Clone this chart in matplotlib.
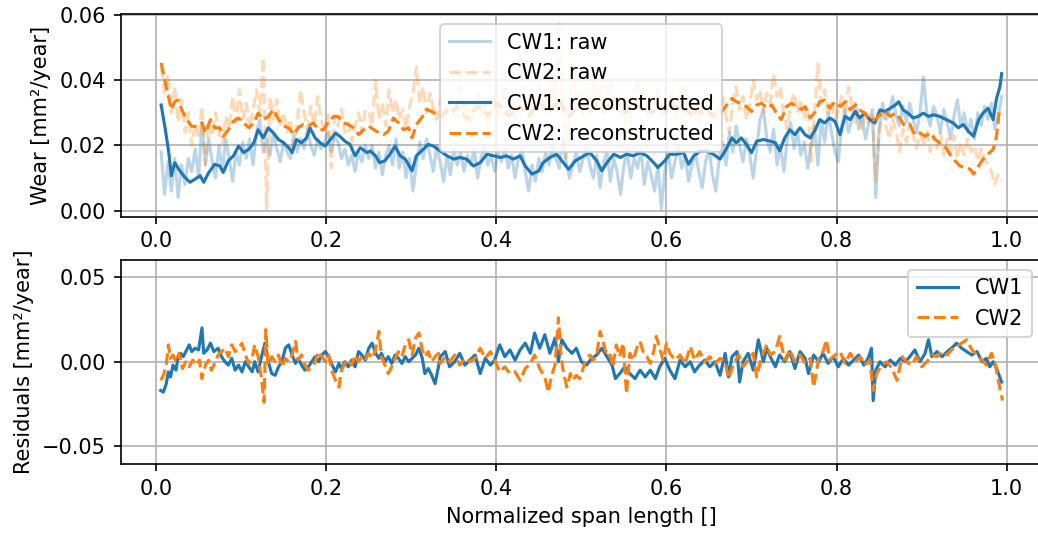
import numpy as np
import matplotlib
matplotlib.use("Agg")
import matplotlib.pyplot as plt

# values, wear in 1e-3 mm^2/year

# raw wear, sampled on an even grid from 0.006 to 0.994
cw1_raw = [18, 5, 15, 6, 16, 4, 14, 8, 16, 12,
           19, 10, 27, 14, 22, 15, 10, 20, 12, 22,
           16, 9, 18, 14, 21, 16, 22, 14, 24, 28,
           18, 22, 17, 24, 19, 15, 21, 18, 16, 23,
           18, 22, 19, 25, 20, 17, 22, 19, 21, 24,
           18, 23, 21, 16, 19, 14, 17, 12, 18, 15,
           20,
           16, 20, 13, 18, 11, 17, 20, 14, 22, 13,
           18, 10, 16, 6, 14, 21, 16, 22, 17, 12,
           20, 15, 9, 17, 11, 19, 14, 18, 12, 17,
           14, 19, 10, 16, 20, 14, 17, 12, 18, 15,
           19, 13, 17, 10, 16, 19, 12, 6, 14, 9,
           16, 12, 18, 14, 20, 16, 13, 22, 15, 10,
           14, 18, 12, 16, 20,
           14, 10, 17, 7, 15, 18, 9, 16, 12, 5,
           14, 18, 10, 16, 13, 19, 8, 15, 11, 6,
           14, 0.5, 12, 18, 10, 15, 20, 13, 17, 9,
           14, 18, 12, 7, 15, 19, 11, 6, 16, 21,
           14, 24, 18, 26, 20, 15, 22, 17, 10, 19,
           28, 31, 22, 18, 25, 14, 20, 12, 22, 27,
           19, 24, 17, 21, 13,
           20, 26, 14, 28, 21, 30, 24, 18, 15, 26,
           31, 24, 28, 33, 25, 29, 22, 27, 31, 4,
           25, 33, 28, 30, 35, 29, 26, 32, 27, 33,
           28, 24, 30, 41, 30, 26, 32, 29, 24, 31,
           27, 22, 29, 34, 26, 30, 24, 28, 22, 30,
           26, 32, 28, 33, 25, 29, 35]

cw2_raw = [44, 36, 42, 30, 38, 27, 34, 24, 30, 20,
           27, 22, 32, 14, 27, 23, 30, 24, 20, 29,
           25, 35, 27, 37, 28, 33, 25, 31, 37, 30,
           47, 0.5, 35, 28, 34, 26, 30, 24, 28, 20,
           27, 37, 30, 25, 32, 26, 35, 28, 24, 30,
           13, 29, 26, 31, 24, 27, 21, 26, 30, 24,
           31,
           30, 26, 40, 28, 33, 26, 37, 30, 34, 28,
           31, 25, 32, 36, 44, 33, 38, 30, 36, 31,
           28, 34, 27, 31, 35, 29, 33, 38, 30, 34,
           27, 32, 36, 29, 33, 26, 31, 35, 28, 32,
           37, 30, 34, 28, 33, 38, 31, 35, 29, 33,
           39, 31, 36, 30, 42, 34, 58, 30, 16, 33,
           45, 32, 36, 29, 37,
           31, 42, 33, 38, 30, 35, 40, 31, 36, 29,
           34, 16, 30, 35, 41, 32, 36, 28, 33, 33,
           37, 29, 34, 30, 36, 28, 33, 38, 31, 35,
           29, 33, 27, 32, 36, 30, 34, 28, 32, 35,
           29, 24, 33, 38, 31, 35, 28, 33, 40, 34,
           37, 30, 36, 33, 42, 35, 38, 29, 25, 33,
           36, 30, 34, 28, 32,
           15, 30, 45, 33, 37, 29, 34, 28, 31, 35,
           29, 38, 32, 27, 31, 25, 30, 27, 30, 9,
           24, 30, 26, 22, 28, 24, 18, 25, 21, 27,
           23, 19, 24, 20, 25, 18, 23, 19, 24, 17,
           22, 18, 23, 16, 21, 17, 22, 18, 20, 15,
           19, 16, 14, 12, 8, 11, 9]

# reconstructed wear
cw1_rec_x = [0.006, 0.011, 0.015, 0.018, 0.022, 0.028, 0.034, 0.040, 0.046, 0.052,
             0.056, 0.062, 0.069, 0.075, 0.079, 0.085, 0.091, 0.097, 0.103, 0.109,
             0.115, 0.120, 0.126, 0.132, 0.138, 0.144, 0.150, 0.156, 0.160, 0.165,
             0.171, 0.177, 0.181, 0.187, 0.193, 0.199, 0.205, 0.211, 0.216, 0.222,
             0.228, 0.234, 0.240, 0.248,
             0.252, 0.258, 0.263, 0.269, 0.275, 0.281, 0.287, 0.293, 0.301, 0.306,
             0.314, 0.320, 0.326, 0.334, 0.342, 0.350, 0.357, 0.365, 0.373, 0.381,
             0.389, 0.397, 0.405, 0.412, 0.420, 0.428, 0.434, 0.442, 0.450, 0.455,
             0.463, 0.471, 0.477, 0.485, 0.493, 0.503, 0.510,
             0.518, 0.524, 0.530, 0.538, 0.546, 0.553, 0.561, 0.569, 0.577, 0.585,
             0.590, 0.598, 0.604, 0.612, 0.620, 0.626, 0.632, 0.640, 0.647, 0.655,
             0.663, 0.669, 0.677, 0.682, 0.688, 0.694, 0.700, 0.706, 0.714, 0.722,
             0.728, 0.733, 0.739, 0.745, 0.751, 0.757, 0.763, 0.769,
             0.775, 0.780, 0.786, 0.792, 0.798, 0.804, 0.810, 0.816, 0.822, 0.827,
             0.833, 0.839, 0.845, 0.851, 0.857, 0.863, 0.869, 0.873, 0.878, 0.884,
             0.890, 0.896, 0.902, 0.908, 0.914, 0.921, 0.929, 0.937, 0.943, 0.949,
             0.955, 0.961, 0.967, 0.972, 0.978, 0.984, 0.988, 0.992, 0.994]
cw1_rec = [32.4, 24.8, 17.8, 10.7, 14.7, 12.2, 10.2, 8.7, 9.7, 10.7,
           8.7, 11.7, 14.2, 13.7, 11.7, 15.3, 16.8, 19.8, 17.8, 18.8,
           20.8, 24.8, 22.3, 25.4, 23.8, 21.8, 20.8, 19.3, 17.8, 21.8,
           20.8, 22.3, 25.4, 22.3, 20.8, 19.8, 21.8, 23.8, 22.8, 21.3,
           20.3, 16.8, 19.3, 17.8,
           18.3, 16.8, 14.7, 15.3, 17.3, 19.8, 16.8, 15.8, 12.2, 16.8,
           18.8, 20.3, 19.8, 18.3, 16.8, 15.8, 16.3, 15.8, 13.7, 14.7,
           17.3, 16.8, 16.3, 16.8, 15.8, 16.8, 13.7, 11.2, 12.2, 14.7,
           16.3, 17.3, 15.3, 12.7, 15.3, 16.8, 17.8,
           15.3, 12.2, 14.7, 17.3, 16.3, 17.3, 16.8, 17.8, 16.8, 14.7,
           13.2, 15.3, 17.3, 17.3, 17.8, 14.2, 16.8, 18.3, 18.3, 17.3,
           15.8, 18.3, 22.3, 20.8, 22.3, 20.3, 17.8, 21.3, 21.8, 21.3,
           20.8, 18.3, 22.3, 24.8, 23.3, 25.4, 23.3, 22.3,
           24.8, 27.9, 26.9, 28.4, 27.4, 23.3, 28.9, 27.9, 30.4, 28.4,
           29.9, 27.9, 26.9, 30.9, 30.4, 31.4, 32.4, 33.4, 30.9, 29.9,
           28.4, 28.9, 29.9, 28.9, 29.4, 28.9, 27.9, 26.9, 25.4, 26.4,
           24.3, 22.8, 27.9, 29.9, 31.4, 27.9, 34.4, 38.0, 42.0]

cw2_rec_x = [0.006, 0.0106, 0.0145, 0.018, 0.022, 0.026, 0.030, 0.036, 0.042, 0.048,
             0.054, 0.058, 0.064, 0.069, 0.075, 0.079, 0.085, 0.091, 0.097, 0.103,
             0.109, 0.115, 0.120, 0.126, 0.132, 0.138, 0.144, 0.150, 0.156, 0.162,
             0.167, 0.173, 0.179, 0.185, 0.191, 0.197, 0.203, 0.209, 0.214, 0.220,
             0.226, 0.232, 0.238, 0.244, 0.250,
             0.259, 0.267, 0.273, 0.279, 0.285, 0.291, 0.297, 0.301, 0.306, 0.312,
             0.318, 0.324, 0.330,
             0.336, 0.342, 0.348, 0.354, 0.360, 0.366, 0.372, 0.378, 0.384, 0.390,
             0.396, 0.402, 0.408, 0.414, 0.420, 0.426, 0.432, 0.438, 0.444, 0.450,
             0.456, 0.462, 0.468, 0.474, 0.480, 0.486, 0.492, 0.498, 0.504, 0.510,
             0.516, 0.522, 0.528, 0.534, 0.540, 0.546, 0.552, 0.558, 0.564, 0.570,
             0.576, 0.582, 0.588, 0.594, 0.600, 0.606, 0.612, 0.618, 0.624, 0.630,
             0.636, 0.642, 0.648, 0.654, 0.660,
             0.665, 0.671, 0.677, 0.682, 0.688, 0.694, 0.700, 0.706, 0.712, 0.718,
             0.724, 0.730, 0.735, 0.741, 0.747, 0.753, 0.759,
             0.763, 0.769, 0.775, 0.780, 0.786, 0.792, 0.798, 0.804, 0.810, 0.816,
             0.822, 0.827, 0.833, 0.839, 0.845, 0.851, 0.857, 0.863, 0.869, 0.874,
             0.880, 0.886, 0.892, 0.898, 0.904, 0.910, 0.916, 0.921, 0.927, 0.933,
             0.939, 0.945, 0.951, 0.957, 0.961, 0.967, 0.972, 0.978, 0.984, 0.988,
             0.991, 0.993]
cw2_rec = [45.3, 39.5, 35.0, 31.0, 33.4, 33.9, 31.0, 27.9, 25.9, 25.7,
           26.9, 23.8, 27.9, 25.4, 25.4, 22.8, 24.8, 27.4, 28.4, 26.9,
           25.4, 26.9, 29.9, 27.9, 28.9, 31.0, 27.9, 25.9, 25.4, 23.3,
           25.4, 26.4, 25.9, 26.9, 24.8, 24.8, 27.4, 28.9, 28.9, 26.9,
           26.4, 25.4, 23.3, 24.8, 25.9,
           24.3, 23.3, 24.3, 28.4, 26.9, 24.8, 25.4, 22.3, 26.4, 28.4,
           31.0, 30.4, 29.4,
           29, 31, 30, 32, 30, 28, 30, 32, 31, 29,
           31, 33, 31, 29, 30, 32, 31, 29, 31, 33,
           32, 30, 32, 34, 31, 29, 31, 33, 32, 30,
           32, 33, 31, 33, 34, 32, 30, 32, 33, 31,
           32, 30, 31, 32, 30, 31, 32, 30, 31, 29,
           31, 30, 31, 29, 30,
           30.4, 32.4, 34.4, 33.4, 32.9, 31.9, 30.4, 32.4, 32.9, 31.4,
           32.4, 29.4, 27.9, 31.9, 32.9, 31.9, 31.0,
           31.9, 28.4, 30.4, 33.4, 33.9, 31.4, 33.4, 31.9, 33.4, 30.9,
           32.4, 30.9, 29.9, 27.9, 27.9, 29.4, 30.4, 28.9, 29.9, 28.4,
           25.9, 26.4, 23.3, 23.8, 22.8, 23.8, 21.8, 20.8, 19.8, 17.3,
           15.3, 13.7, 13.2, 12.7, 11.2, 13.7, 15.8, 17.3, 18.8, 22.8,
           29.9, 31.4]

# residuals
cw1_res_x = [0.0055, 0.0086, 0.012, 0.0145, 0.017, 0.020, 0.0235, 0.026, 0.029, 0.032,
             0.036, 0.039, 0.042, 0.046, 0.050, 0.054, 0.056, 0.060, 0.064, 0.068,
             0.073, 0.077, 0.081, 0.085, 0.089, 0.093, 0.097, 0.101, 0.105, 0.109,
             0.113, 0.116, 0.120, 0.124, 0.128, 0.132, 0.136, 0.140, 0.144, 0.148,
             0.152, 0.156, 0.160, 0.164, 0.167, 0.171, 0.175, 0.179, 0.183, 0.187,
             0.191, 0.195, 0.199, 0.203, 0.207, 0.211, 0.215, 0.218, 0.222, 0.226,
             0.230, 0.234, 0.238, 0.242, 0.246, 0.250, 0.254, 0.258, 0.262, 0.265,
             0.269, 0.273, 0.277, 0.281, 0.285, 0.289, 0.293, 0.297, 0.301, 0.305,
             0.309, 0.313, 0.316, 0.320, 0.324, 0.328, 0.332,
             0.334, 0.340, 0.345, 0.351, 0.357, 0.363, 0.369, 0.375, 0.381, 0.387,
             0.393, 0.398, 0.404, 0.410, 0.416, 0.422, 0.428, 0.434, 0.440, 0.445,
             0.451, 0.457, 0.463, 0.469, 0.473, 0.477, 0.483, 0.489, 0.494, 0.500,
             0.506, 0.512, 0.518, 0.524, 0.530, 0.536, 0.540, 0.545, 0.551, 0.557,
             0.563, 0.569, 0.575, 0.581, 0.587, 0.592, 0.598, 0.604, 0.610, 0.616,
             0.622, 0.628, 0.633, 0.639, 0.645, 0.651, 0.657, 0.663, 0.669,
             0.673, 0.677, 0.683, 0.686, 0.690, 0.696, 0.702, 0.708, 0.714, 0.718,
             0.722, 0.728, 0.733, 0.739, 0.745, 0.751, 0.757, 0.763, 0.767, 0.773,
             0.779, 0.784, 0.790, 0.796, 0.802, 0.808, 0.814, 0.820, 0.826, 0.832,
             0.837, 0.841, 0.843, 0.846, 0.851, 0.857, 0.863, 0.869, 0.875, 0.881,
             0.886, 0.892, 0.898, 0.904, 0.908, 0.912, 0.918, 0.924, 0.930, 0.935,
             0.941, 0.947, 0.953, 0.959, 0.965, 0.971, 0.976, 0.980, 0.984, 0.988,
             0.994]
cw1_res = [-17, -18, -13, -6, -9, -2, -5, 3, 5, 3,
           7, 10, 6, 8, 7, 20, 5, 7, 11, 6,
           8, 3, 0, -2, 2, -5, -2, -6, 0, -3,
           -6, 0, -6, 3, 11, 0, -7, -8, -3, 0,
           8, 10, 4, -1, 2, -2, -5, -3, 0, 3,
           0, 4, 6, 3, -2, -6, -1, -4, 0, -3,
           1, -3, 6, 4, 1, 8, 11, 5, 2, 5,
           0, 3, -1, 4, 2, -1, 3, 0, 2, 4,
           8, 2, -7, -4, -8, -13, -3,
           3, 6, -3, 0, 5, -2, 1, 4, -7, 2,
           -2, 1, 10, 3, 7, 1, 7, 11, 5, 17,
           8, 16, 5, 14, 0, 13, 8, 5, 8, 0,
           -2, 2, 4, 8, 3, -2, -10, -7, -3, -7,
           -10, -5, -9, -5, -10, -3, 2, -5, -10, 1,
           -3, 0, -6, -2, 1, -3, 0, -8, 5,
           -9, 3, 6, -12, 0, 5, -5, 13, 0, 8,
           3, -3, 4, 0, 6, -4, 6, 2, -7, 4,
           0, 5, -1, 3, -3, 2, -2, 1, 4, -2,
           2, 8, -23, -5, 0, -3, 1, -2, 2, 0,
           3, 7, 0, 5, 13, 3, 6, 3, 6, 8,
           11, 8, 6, 4, 6, 0, 2, -3, 0, -4,
           -12]

cw2_res_x = [0.0055, 0.0086, 0.012, 0.0145, 0.017, 0.020, 0.0235, 0.027, 0.031, 0.035,
             0.039, 0.043, 0.047, 0.051, 0.054, 0.058, 0.062, 0.065, 0.069, 0.073,
             0.077, 0.081, 0.085, 0.089, 0.093, 0.097, 0.101, 0.105, 0.109, 0.113,
             0.116, 0.120, 0.124, 0.127, 0.129, 0.132, 0.136, 0.140, 0.144, 0.148,
             0.152, 0.156, 0.160, 0.164, 0.167, 0.171, 0.175, 0.179, 0.183, 0.187,
             0.191, 0.195, 0.199, 0.203, 0.207, 0.211, 0.215, 0.218, 0.222, 0.226,
             0.230, 0.234, 0.238, 0.242, 0.246, 0.250, 0.254, 0.258, 0.262, 0.265,
             0.269, 0.273, 0.277, 0.281, 0.285, 0.289, 0.293, 0.297, 0.301, 0.305,
             0.309, 0.313, 0.316, 0.320, 0.324, 0.328, 0.332,
             0.334, 0.340, 0.345, 0.351, 0.357, 0.363, 0.369, 0.375, 0.381, 0.387,
             0.393, 0.398, 0.404, 0.410, 0.416, 0.422, 0.428, 0.434, 0.440, 0.445,
             0.451, 0.457, 0.461, 0.465, 0.469, 0.473, 0.476, 0.479, 0.483, 0.487,
             0.490, 0.494, 0.498, 0.502, 0.506, 0.510, 0.514, 0.518, 0.522, 0.526,
             0.530, 0.534, 0.537, 0.541, 0.545, 0.549, 0.553, 0.557, 0.561, 0.565,
             0.569, 0.573, 0.577, 0.581, 0.585, 0.588, 0.592, 0.596, 0.600, 0.604,
             0.610, 0.616, 0.622, 0.628, 0.633, 0.639, 0.645, 0.651, 0.657, 0.663,
             0.669,
             0.673, 0.679, 0.685, 0.690, 0.696, 0.702, 0.706, 0.712, 0.718, 0.722,
             0.728, 0.733, 0.739, 0.745, 0.751, 0.757, 0.763, 0.769, 0.773, 0.779,
             0.784, 0.788, 0.792, 0.798, 0.804, 0.810, 0.816, 0.822, 0.828, 0.833,
             0.839, 0.843, 0.847, 0.853, 0.859, 0.865, 0.871, 0.877, 0.882, 0.888,
             0.894, 0.900, 0.906, 0.912, 0.918, 0.924, 0.930, 0.935, 0.941, 0.947,
             0.953, 0.959, 0.965, 0.971, 0.976, 0.982, 0.986, 0.990, 0.995]
cw2_res = [-11, -8, -2, 10, 2, 4, 0, 5, -4, 0,
           -3, 1, -2, 1, -10, -2, 1, -5, -1, 4,
           6, 8, 3, 10, 6, 8, 11, 4, -1, 2,
           10, 3, -10, -24, 19, -2, 3, 0, 4, -3,
           2, 0, 4, 12, 1, 4, -2, -5, -3, 0,
           6, 3, 0, 4, -6, -11, -15, -5, -1, 1,
           -2, 4, 0, 3, 1, 5, 2, 7, 18, 3,
           -2, -7, -3, 2, 6, 3, 10, 13, 4, 14,
           17, 7, 3, 6, 0, 3, 5,
           -1, 3, 0, 4, -2, 2, 0, 2, 8, 2,
           6, 1, -6, -3, -7, -6, -11, -4, -1, 4,
           -4, -9, -18, -8, -2, 26, 4, -7, -15, -7,
           -11, -8, -10, -4, 2, 4, 1, 4, 18, 11,
           3, 4, -3, 10, 3, 11, -19, 5, 1, 8,
           12, 5, 3, -1, 6, 15, 8, 1, 11, 5,
           1, 4, -1, 9, 1, 6, 0, 3, -1, 2,
           0,
           -10, -1, 4, -3, 1, 5, -9, 3, 10, 4,
           6, 15, 1, 7, 0, 4, -1, 2, -15, 2,
           6, 13, 1, 4, 6, -1, 5, 0, 3, -2,
           1, -17, -7, -2, 0, -4, -11, 3, 0, -2,
           3, -3, 0, 4, 3, 6, 4, 7, 9, 11,
           13, 7, 4, 1, -2, 5, 0, -11, -23]

raw_x = np.linspace(0.006, 0.994, len(cw1_raw))
raw_x2 = np.linspace(0.006, 0.994, len(cw2_raw))
k = 1e-3

fig = plt.figure(figsize=(1038 / 150, 533 / 150), dpi=150)
ax1 = fig.add_axes([0.1163, 1 - 216.5 / 533, 0.8876, 202.5 / 533])
ax2 = fig.add_axes([0.1163, 1 - 464 / 533, 0.8876, 204.5 / 533])

ax1.plot(raw_x, np.array(cw1_raw) * k, color='C0', alpha=0.3, label='CW1: raw')
ax1.plot(raw_x2, np.array(cw2_raw) * k, '--', color='C1', alpha=0.3, label='CW2: raw')
ax1.plot(cw1_rec_x, np.array(cw1_rec) * k, color='C0', label='CW1: reconstructed')
ax1.plot(cw2_rec_x, np.array(cw2_rec) * k, '--', color='C1', label='CW2: reconstructed')
ax1.set_xlim(-0.0415, 1.0415)
ax1.set_ylim(-0.0018, 0.0603)
ax1.set_ylabel('Wear [mm²/year]')
ax1.grid(True)
ax1.legend(loc='upper center')

ax2.plot(cw1_res_x, np.array(cw1_res) * k, color='C0', label='CW1')
ax2.plot(cw2_res_x, np.array(cw2_res) * k, '--', color='C1', label='CW2')
ax2.set_xlim(-0.0415, 1.0415)
ax2.set_ylim(-0.0605, 0.0605)
ax2.set_yticks([-0.05, 0.0, 0.05])
ax2.set_ylabel('Residuals [mm²/year]')
ax2.set_xlabel('Normalized span length []')
ax2.grid(True)
ax2.legend(loc='upper right')

fig.savefig('out.png', dpi=150)
